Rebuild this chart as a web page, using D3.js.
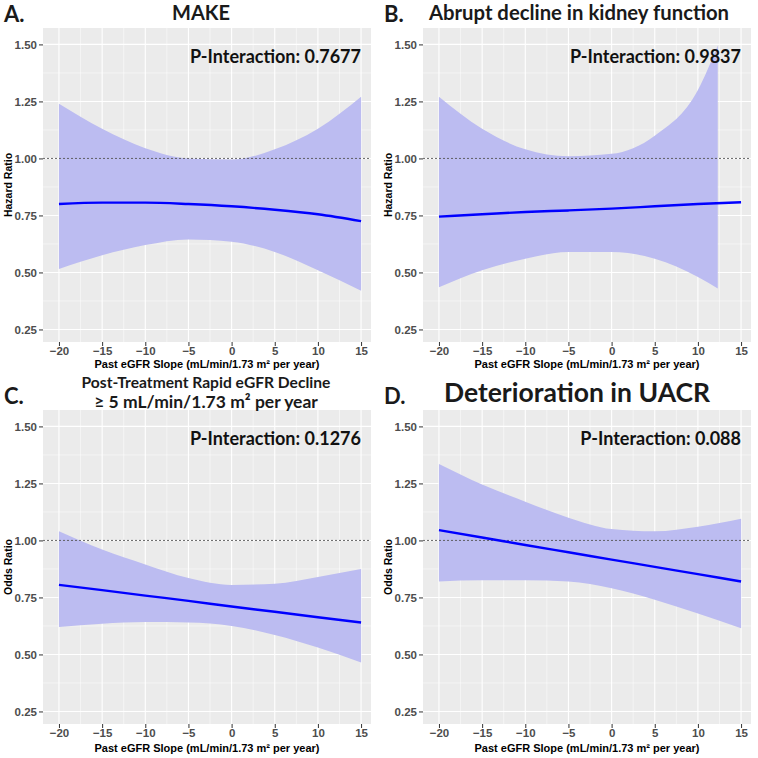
<!DOCTYPE html>
<html>
<head>
<meta charset="utf-8">
<script src="https://cdn.jsdelivr.net/npm/d3@7"></script>
<style>
  body { margin: 0; background: #fff; }
  .tick text { font-family: "Liberation Sans", Arial, sans-serif; font-weight: bold; fill: #4d4d4d; }
</style>
</head>
<body>
<div id="chart"></div>
<script>
// data
const xTicks = [-20, -15, -10, -5, 0, 5, 10, 15];
const yTicks = [0.25, 0.5, 0.75, 1.0, 1.25, 1.5];
const xs = [-20, -15, -10, -5, 0, 5, 10, 15];

const makeFit   = [0.800, 0.806, 0.806, 0.800, 0.790, 0.775, 0.755, 0.725];
const makeUpper = [1.240, 1.130, 1.045, 1.000, 0.995, 1.040, 1.130, 1.270];
const makeLower = [0.515, 0.575, 0.620, 0.645, 0.635, 0.590, 0.510, 0.420];

const abruptFit   = [0.745, 0.755, 0.765, 0.772, 0.780, 0.790, 0.800, 0.808];
const abruptBandX = [-20, -15, -10, -5, 0, 5, 10, 12.3];
const abruptUpper = [1.270, 1.130, 1.040, 1.010, 1.020, 1.100, 1.300, 1.495];
const abruptLower = [0.435, 0.510, 0.560, 0.590, 0.590, 0.560, 0.480, 0.430];

const rapidFit   = [0.805, 0.782, 0.758, 0.735, 0.710, 0.687, 0.663, 0.640];
const rapidUpper = [1.040, 0.960, 0.895, 0.835, 0.805, 0.810, 0.840, 0.875];
const rapidLower = [0.620, 0.635, 0.642, 0.640, 0.625, 0.585, 0.530, 0.465];

const uacrFit   = [1.045, 1.013, 0.980, 0.948, 0.916, 0.884, 0.852, 0.820];
const uacrUpper = [1.335, 1.245, 1.170, 1.100, 1.050, 1.040, 1.060, 1.095];
const uacrLower = [0.820, 0.825, 0.825, 0.820, 0.790, 0.740, 0.680, 0.615];

const panels = [
  {letter: "A.", title: ["MAKE"], titleSize: [20], titleDx: -6, ylab: "Hazard Ratio", p: "P-Interaction: 0.7677",
   left: 43, top: 28, fit: makeFit, bandX: xs, upper: makeUpper, lower: makeLower},
  {letter: "B.", title: ["Abrupt decline in kidney function"], titleSize: [20.3], titleDx: -8, ylab: "Hazard Ratio", p: "P-Interaction: 0.9837",
   left: 423, top: 28, fit: abruptFit, bandX: abruptBandX, upper: abruptUpper, lower: abruptLower},
  {letter: "C.", title: ["Post-Treatment Rapid eGFR Decline", "\u2265 5 mL/min/1.73 m\u00b2 per year"], titleSize: [15.6, 17.5], titleDx: -1, ylab: "Odds Ratio", p: "P-Interaction: 0.1276",
   left: 43, top: 410, fit: rapidFit, bandX: xs, upper: rapidUpper, lower: rapidLower},
  {letter: "D.", title: ["Deterioration in UACR"], titleSize: [26.5], titleDx: -10, ylab: "Odds Ratio", p: "P-Interaction: 0.088",
   left: 423, top: 410, fit: uacrFit, bandX: xs, upper: uacrUpper, lower: uacrLower}
];

const W = 758, H = 758;
const pw = 328, ph = 314;
const titleFont = "Lato, 'Open Sans', sans-serif";
const axisFont = "'Liberation Sans', Arial, sans-serif";

const svg = d3.select("#chart").append("svg")
    .attr("width", W).attr("height", H);

panels.forEach(function(d) {
    const x = d3.scaleLinear().domain([-21.85, 16.15]).range([0, pw]);
    const y = d3.scaleLinear().domain([0.195, 1.572]).range([ph, 0]);

    const g = svg.append("g").attr("transform", `translate(${d.left}, ${d.top})`);

    g.append("rect").attr("width", pw).attr("height", ph).attr("fill", "#ebebeb");

    // minor grid
    const xMinor = xTicks.map(t => t + 2.5).filter(t => t < 16.15);
    const yMinor = yTicks.map(t => t + 0.125).filter(t => t < 1.572);
    g.selectAll(".xminor").data(xMinor).join("line")
        .attr("x1", t => x(t)).attr("x2", t => x(t)).attr("y1", 0).attr("y2", ph)
        .attr("stroke", "#fff").attr("stroke-width", 0.5);
    g.selectAll(".yminor").data(yMinor).join("line")
        .attr("y1", t => y(t)).attr("y2", t => y(t)).attr("x1", 0).attr("x2", pw)
        .attr("stroke", "#fff").attr("stroke-width", 0.5);
    // major grid
    g.selectAll(".xmajor").data(xTicks).join("line")
        .attr("x1", t => x(t)).attr("x2", t => x(t)).attr("y1", 0).attr("y2", ph)
        .attr("stroke", "#fff").attr("stroke-width", 1.1);
    g.selectAll(".ymajor").data(yTicks).join("line")
        .attr("y1", t => y(t)).attr("y2", t => y(t)).attr("x1", 0).attr("x2", pw)
        .attr("stroke", "#fff").attr("stroke-width", 1.1);

    // confidence band
    const band = d.bandX.map((v, i) => ({x: v, lo: d.lower[i], hi: d.upper[i]}));
    const area = d3.area()
        .x(p => x(p.x)).y0(p => y(p.lo)).y1(p => y(p.hi))
        .curve(d3.curveMonotoneX);
    g.append("path").datum(band).attr("d", area)
        .attr("fill", "rgb(188,188,241)");

    // reference line at 1
    g.append("line")
        .attr("x1", 0).attr("x2", pw).attr("y1", y(1)).attr("y2", y(1))
        .attr("stroke", "#555").attr("stroke-width", 0.9).attr("stroke-dasharray", "2,2");

    // fitted line
    const line = d3.line().x((v, i) => x(xs[i])).y(v => y(v)).curve(d3.curveMonotoneX);
    g.append("path").datum(d.fit).attr("d", line)
        .attr("fill", "none").attr("stroke", "#0000ff").attr("stroke-width", 2.4);

    // axes
    const xAxis = g.append("g").attr("transform", `translate(0, ${ph})`)
        .call(d3.axisBottom(x).tickValues(xTicks).tickSize(4).tickPadding(1));
    const yAxis = g.append("g")
        .call(d3.axisLeft(y).tickValues(yTicks).tickFormat(d3.format(".2f")).tickSize(4).tickPadding(2));
    [xAxis, yAxis].forEach(a => {
        a.select(".domain").remove();
        a.selectAll(".tick line").attr("stroke", "#333");
        a.selectAll(".tick text").style("font-size", "11.5px");
    });

    // axis titles
    g.append("text")
        .attr("x", pw / 2).attr("y", ph + (d.top > 300 ? 28 : 26))
        .attr("text-anchor", "middle")
        .style("font-family", axisFont).style("font-weight", "bold").style("font-size", "11px")
        .text("Past eGFR Slope (mL/min/1.73 m\u00b2 per year)");
    g.append("text")
        .attr("transform", `translate(-31, ${ph / 2}) rotate(-90)`)
        .attr("text-anchor", "middle")
        .style("font-family", axisFont).style("font-weight", "bold").style("font-size", "10.5px")
        .text(d.ylab);

    // P-interaction label
    g.append("text")
        .attr("x", pw - 10).attr("y", 35)
        .attr("text-anchor", "end")
        .style("font-family", titleFont).style("font-weight", "bold").style("font-size", "18px")
        .attr("fill", "#111")
        .text(d.p);

    // panel letter and title
    svg.append("text")
        .attr("x", d.left - 39).attr("y", d.top - 6)
        .style("font-family", titleFont).style("font-weight", "bold").style("font-size", "22px")
        .attr("fill", "#1a1a1a")
        .text(d.letter);
    if (d.title.length === 1) {
        svg.append("text")
            .attr("x", d.left + pw / 2 + d.titleDx).attr("y", d.top - 8)
            .attr("text-anchor", "middle")
            .style("font-family", titleFont).style("font-weight", "bold").style("font-size", d.titleSize[0] + "px")
            .attr("fill", "#1a1a1a")
            .text(d.title[0]);
    } else {
        d.title.forEach((t, i) => {
            svg.append("text")
                .attr("x", d.left + pw / 2 + d.titleDx).attr("y", d.top - 22 + i * 20)
                .attr("text-anchor", "middle")
                .style("font-family", titleFont).style("font-weight", "bold").style("font-size", d.titleSize[i] + "px")
                .attr("fill", "#1a1a1a")
                .text(t);
        });
    }
});
</script>
</body>
</html>
